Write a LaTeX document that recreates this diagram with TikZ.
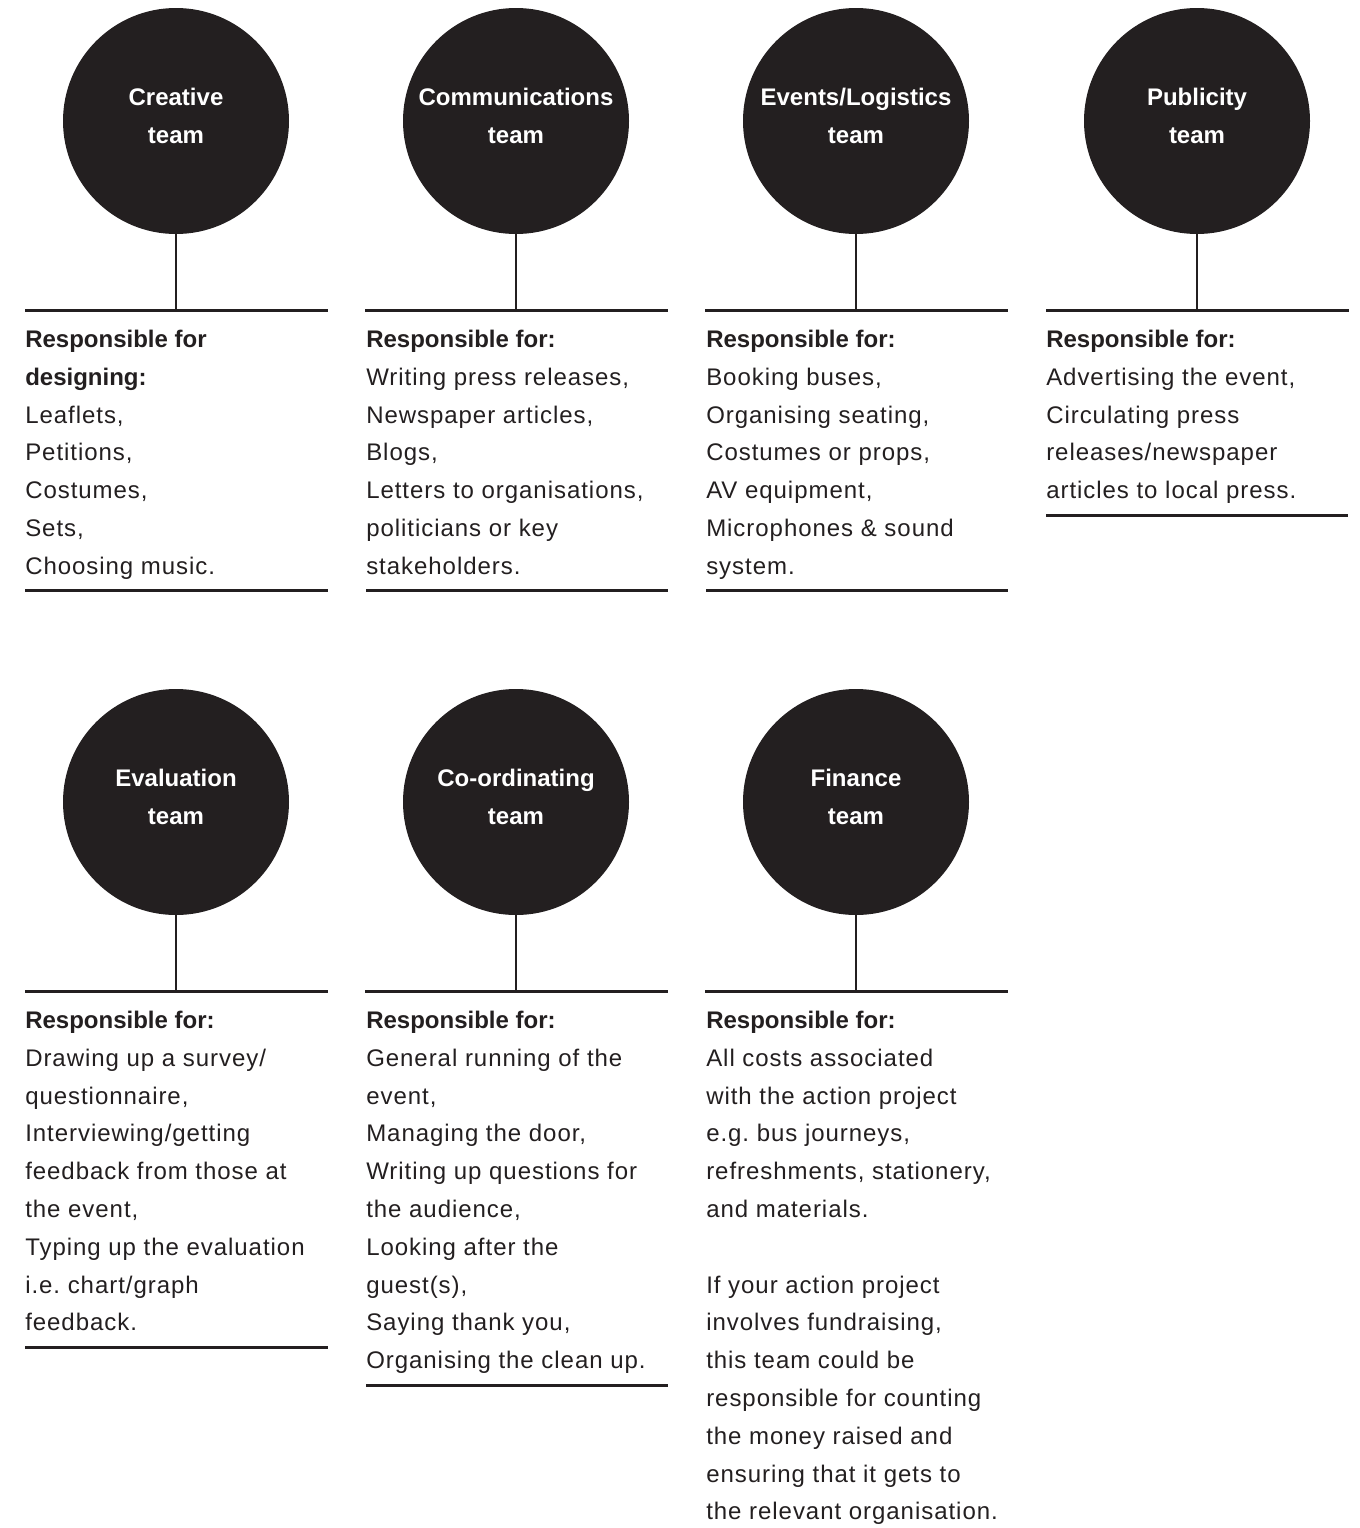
\documentclass[tikz,border=0pt]{standalone}
\usepackage{fontspec}
\setmainfont{Liberation Sans}
\newfontfamily\regfont[LetterSpace=4]{Liberation Sans}
\definecolor{ink}{HTML}{231F20}
\frenchspacing
\tikzset{
  team/.style={circle, fill=ink, draw=none, minimum size=169.5pt, inner sep=0pt},
  ttl/.style={anchor=base, inner sep=0pt, text=white, font=\bfseries\fontsize{18}{22}\selectfont},
  head/.style={anchor=base west, inner sep=0pt, text=ink, font=\bfseries\fontsize{18}{22}\selectfont},
  body/.style={anchor=base west, inner sep=0pt, text=ink, font=\regfont\fontsize{18}{22}\selectfont},
  stem/.style={draw=ink, line width=1.9pt},
  rule/.style={draw=ink, line width=2.25pt},
}
\newcommand\teamunit[5]{% #1 id, #2 cx, #3 cy, #4 title1, #5 title2
  \node[team] (c#1) at (#2,#3) {};
  \node[ttl] (c#1a) at (#2,#3-16) {#4};
  \node[ttl] (c#1b) at (#2,#3+22) {#5};
  \coordinate (r#1l) at (#2-151,#3+189);
  \coordinate (r#1m) at (#2,#3+189);
  \coordinate (r#1r) at (#2+152,#3+189);
  \draw[stem] (c#1.south) -- (r#1m);
  \draw[rule] (r#1l) -- (r#1r);
}
\begin{document}
\begin{tikzpicture}[x=0.75pt,y=-0.75pt]
\useasboundingbox[fill=white] (0,0) rectangle (1360,1528);

% ---------- row 1 ----------
\teamunit{1}{176}{121}{Creative}{team}
\teamunit{2}{516}{121}{Communications}{team}
\teamunit{3}{856}{121}{Events/Logistics}{team}
\teamunit{4}{1197}{121}{Publicity}{team}

% column 1
\node[head] (h1a) at (25,347.5) {Responsible for};
\node[head] (h1b) at (25,385.3) {designing:};
\foreach \t [count=\i from 2] in {{Leaflets,},{Petitions,},{Costumes,},{Sets,},{Choosing music.}}
  \node[body] (b1-\i) at (25,{347.5+37.8*\i}) {\t};
\draw[rule] (25,590) -- (328,590);

% column 2
\node[head] (h2) at (366,347.5) {Responsible for:};
\foreach \t [count=\i from 1] in {{Writing press releases,},{Newspaper articles,},{Blogs,},{Letters to organisations,},{politicians or key},{stakeholders.}}
  \node[body] (b2-\i) at (366,{347.5+37.8*\i}) {\t};
\draw[rule] (366,590) -- (668,590);

% column 3
\node[head] (h3) at (706,347.5) {Responsible for:};
\foreach \t [count=\i from 1] in {{Booking buses,},{Organising seating,},{Costumes or props,},{AV equipment,},{Microphones \& sound},{system.}}
  \node[body] (b3-\i) at (706,{347.5+37.8*\i}) {\t};
\draw[rule] (706,590) -- (1008,590);

% column 4
\node[head] (h4) at (1046,347.5) {Responsible for:};
\foreach \t [count=\i from 1] in {{Advertising the event,},{Circulating press},{releases/newspaper},{articles to local press.}}
  \node[body] (b4-\i) at (1046,{347.5+37.8*\i}) {\t};
\draw[rule] (1046,515) -- (1348,515);

% ---------- row 2 ----------
\teamunit{5}{176}{802}{Evaluation}{team}
\teamunit{6}{516}{802}{Co-ordinating}{team}
\teamunit{7}{856}{802}{Finance}{team}

% column 5
\node[head] (h5) at (25,1028.5) {Responsible for:};
\foreach \t [count=\i from 1] in {{Drawing up a survey/},{questionnaire,},{Interviewing/getting},{feedback from those at},{the event,},{Typing up the evaluation},{i.e. chart/graph},{feedback.}}
  \node[body] (b5-\i) at (25,{1028.5+37.8*\i}) {\t};
\draw[rule] (25,1347) -- (328,1347);

% column 6
\node[head] (h6) at (366,1028.5) {Responsible for:};
\foreach \t [count=\i from 1] in {{General running of the},{event,},{Managing the door,},{Writing up questions for},{the audience,},{Looking after the},{guest(s),},{Saying thank you,},{Organising the clean up.}}
  \node[body] (b6-\i) at (366,{1028.5+37.8*\i}) {\t};
\draw[rule] (366,1385) -- (668,1385);

% column 7
\node[head] (h7) at (706,1028.5) {Responsible for:};
\foreach \t [count=\i from 1] in {{All costs associated},{with the action project},{e.g. bus journeys,},{refreshments, stationery,},{and materials.}}
  \node[body] (b7-\i) at (706,{1028.5+37.8*\i}) {\t};
\foreach \t [count=\i from 7] in {{If your action project},{involves fundraising,},{this team could be},{responsible for counting},{the money raised and},{ensuring that it gets to},{the relevant organisation.}}
  \node[body] (b7-\i) at (706,{1028.5+37.8*\i}) {\t};
\end{tikzpicture}
\end{document}
